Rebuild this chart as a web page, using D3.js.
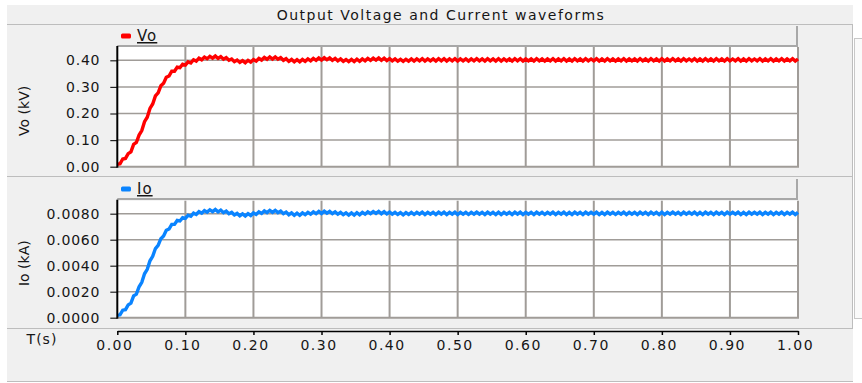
<!DOCTYPE html>
<html>
<head>
<meta charset="utf-8">
<script src="https://cdn.jsdelivr.net/npm/d3@7"></script>
<style>
  html, body { margin: 0; padding: 0; background: #ffffff; }
  svg text { font-family: "DejaVu Sans", Verdana, sans-serif; fill: #161616; }
</style>
</head>
<body>
<svg id="canvas" width="862" height="383"></svg>
<script>
'use strict';

/* sampling of the waveforms (s) */
const sampleStep = 0.004;

/* output voltage Vo (kV), one value every sampleStep from 0 to 1 s */
const voValues = [
  0.009,0.011,0.029,0.031,0.049,0.056,0.084,0.091,0.119,0.136,
  0.169,0.186,0.219,0.236,0.266,0.278,0.304,0.314,0.336,0.341,
  0.359,0.359,0.374,0.372,0.385,0.382,0.394,0.390,0.402,0.397,
  0.408,0.402,0.412,0.406,0.415,0.408,0.416,0.407,0.414,0.404,
  0.410,0.400,0.405,0.395,0.401,0.392,0.399,0.391,0.400,0.393,
  0.403,0.397,0.407,0.401,0.411,0.404,0.413,0.405,0.413,0.404,
  0.410,0.400,0.406,0.396,0.403,0.394,0.402,0.394,0.403,0.396,
  0.405,0.398,0.407,0.400,0.409,0.401,0.410,0.402,0.409,0.400,
  0.407,0.398,0.405,0.396,0.403,0.395,0.403,0.395,0.404,0.396,
  0.405,0.398,0.407,0.400,0.408,0.401,0.409,0.400,0.408,0.399,
  0.406,0.398,0.405,0.397,0.404,0.396,0.404,0.397,0.405,0.397,
  0.405,0.398,0.406,0.397,0.405,0.398,0.405,0.397,0.406,0.398,
  0.406,0.397,0.405,0.398,0.406,0.397,0.405,0.398,0.405,0.397,
  0.405,0.398,0.406,0.398,0.405,0.397,0.406,0.398,0.405,0.397,
  0.406,0.397,0.405,0.398,0.405,0.397,0.406,0.398,0.406,0.397,
  0.405,0.398,0.405,0.397,0.406,0.398,0.405,0.397,0.405,0.398,
  0.406,0.397,0.405,0.398,0.406,0.397,0.405,0.397,0.406,0.398,
  0.405,0.397,0.406,0.398,0.405,0.398,0.406,0.397,0.405,0.397,
  0.406,0.398,0.405,0.397,0.405,0.398,0.406,0.397,0.405,0.398,
  0.405,0.397,0.406,0.398,0.405,0.397,0.406,0.398,0.405,0.397,
  0.406,0.397,0.405,0.398,0.406,0.398,0.405,0.397,0.406,0.398,
  0.405,0.398,0.406,0.397,0.405,0.397,0.406,0.398,0.405,0.397,
  0.406,0.398,0.405,0.397,0.406,0.398,0.405,0.398,0.406,0.397,
  0.405,0.397,0.406,0.398,0.405,0.398,0.406,0.397,0.405,0.398,
  0.406,0.397,0.405,0.398,0.406,0.397,0.405,0.398,0.406,0.397,
  0.405
];

/* output current Io (kA), same sampling */
const ioValues = [
  0.00018,0.00022,0.00058,0.00062,0.00098,0.00112,0.00168,0.00182,0.00238,0.00272,
  0.00338,0.00372,0.00438,0.00472,0.00532,0.00556,0.00608,0.00628,0.00672,0.00682,
  0.00718,0.00718,0.00748,0.00744,0.00770,0.00764,0.00788,0.00780,0.00804,0.00794,
  0.00816,0.00804,0.00824,0.00812,0.00830,0.00816,0.00832,0.00814,0.00828,0.00808,
  0.00820,0.00800,0.00810,0.00790,0.00802,0.00784,0.00798,0.00782,0.00800,0.00786,
  0.00806,0.00794,0.00814,0.00802,0.00822,0.00808,0.00826,0.00810,0.00826,0.00808,
  0.00820,0.00800,0.00812,0.00792,0.00806,0.00788,0.00804,0.00788,0.00806,0.00792,
  0.00810,0.00796,0.00814,0.00800,0.00818,0.00802,0.00820,0.00804,0.00818,0.00800,
  0.00814,0.00796,0.00810,0.00792,0.00806,0.00790,0.00806,0.00790,0.00808,0.00792,
  0.00810,0.00796,0.00814,0.00800,0.00816,0.00802,0.00818,0.00800,0.00816,0.00798,
  0.00812,0.00796,0.00810,0.00794,0.00808,0.00792,0.00808,0.00794,0.00810,0.00794,
  0.00810,0.00796,0.00812,0.00794,0.00810,0.00796,0.00810,0.00794,0.00812,0.00796,
  0.00812,0.00794,0.00810,0.00796,0.00812,0.00794,0.00810,0.00796,0.00810,0.00794,
  0.00810,0.00796,0.00812,0.00796,0.00810,0.00794,0.00812,0.00796,0.00810,0.00794,
  0.00812,0.00794,0.00810,0.00796,0.00810,0.00794,0.00812,0.00796,0.00812,0.00794,
  0.00810,0.00796,0.00810,0.00794,0.00812,0.00796,0.00810,0.00794,0.00810,0.00796,
  0.00812,0.00794,0.00810,0.00796,0.00812,0.00794,0.00810,0.00794,0.00812,0.00796,
  0.00810,0.00794,0.00812,0.00796,0.00810,0.00796,0.00812,0.00794,0.00810,0.00794,
  0.00812,0.00796,0.00810,0.00794,0.00810,0.00796,0.00812,0.00794,0.00810,0.00796,
  0.00810,0.00794,0.00812,0.00796,0.00810,0.00794,0.00812,0.00796,0.00810,0.00794,
  0.00812,0.00794,0.00810,0.00796,0.00812,0.00796,0.00810,0.00794,0.00812,0.00796,
  0.00810,0.00796,0.00812,0.00794,0.00810,0.00794,0.00812,0.00796,0.00810,0.00794,
  0.00812,0.00796,0.00810,0.00794,0.00812,0.00796,0.00810,0.00796,0.00812,0.00794,
  0.00810,0.00794,0.00812,0.00796,0.00810,0.00796,0.00812,0.00794,0.00810,0.00796,
  0.00812,0.00794,0.00810,0.00796,0.00812,0.00794,0.00810,0.00796,0.00812,0.00794,
  0.00810
];

/* tick labels */
const timeTicks = [0.0, 0.1, 0.2, 0.3, 0.4, 0.5, 0.6, 0.7, 0.8, 0.9, 1.0];
const voTicks = [0.0, 0.1, 0.2, 0.3, 0.4];
const ioTicks = [0.0, 0.002, 0.004, 0.006, 0.008];

const title = 'Output Voltage and Current waveforms';

/* panel geometry */
const left = 117.3, right = 798;
const panels = [
  { name: 'Vo', label: 'Vo (kV)', values: voValues, ticks: voTicks, fmt: '.2f',
    domain: [0, 0.45], top: 47, bottom: 166.7, legendTop: 26, color: '#ff0000' },
  { name: 'Io', label: 'Io (kA)', values: ioValues, ticks: ioTicks, fmt: '.4f',
    domain: [0, 0.009], top: 200.7, bottom: 317.7, legendTop: 179, color: '#0a84ff' }
];

let svg = d3.select('#canvas');

/* window background */
svg.append('rect')
  .attr('x', 7).attr('y', 5).attr('width', 846).attr('height', 376)
  .style('fill', '#f0f0f0');

svg.append('text')
  .attr('x', 441).attr('y', 20)
  .attr('text-anchor', 'middle')
  .style('font-size', '14px')
  .style('letter-spacing', '1.5px')
  .text(title);

let frame = [
  [7, 24.5, 853, 24.5], [7, 176.5, 853, 176.5],
  [7, 328.5, 853, 328.5], [7, 381.5, 853, 381.5],
  [852.5, 24.5, 852.5, 328.5]
];
svg.append('g').selectAll('line')
  .data(frame)
  .enter().append('line')
  .attr('x1', d => d[0]).attr('y1', d => d[1])
  .attr('x2', d => d[2]).attr('y2', d => d[3])
  .style('stroke', '#bdbdbd')
  .style('stroke-width', 1);

/* right side scroll strip */
svg.append('rect')
  .attr('x', 854.5).attr('y', 38.5).attr('width', 8).attr('height', 280)
  .style('fill', '#fafafa').style('stroke', '#c8c8c8');

let x = d3.scaleLinear().domain([0, 1]).range([left, right]);

panels.forEach(function(p){
  let y = d3.scaleLinear().domain(p.domain).range([p.bottom, p.top]);
  let g = svg.append('g').attr('id', 'panel_' + p.name);

  /* legend bar */
  g.append('rect')
    .attr('x', left).attr('y', p.legendTop)
    .attr('width', right - left - 2).attr('height', 20)
    .style('fill', '#f0f0f0');
  g.append('path')
    .attr('d', `M${right - 1},${p.legendTop} V${p.legendTop + 20} H${left}`)
    .style('fill', 'none').style('stroke', '#a8a8a8').style('stroke-width', 2);
  g.append('rect')
    .attr('x', 121).attr('y', p.legendTop + 7.5)
    .attr('width', 10).attr('height', 5).attr('rx', 1.5)
    .style('fill', p.color);
  g.append('text')
    .attr('x', 137).attr('y', p.legendTop + 15)
    .style('font-size', '15px')
    .style('letter-spacing', '1px')
    .style('text-decoration', 'underline')
    .text(p.name);

  /* plot area */
  g.append('rect')
    .attr('x', left).attr('y', p.top)
    .attr('width', right - left).attr('height', p.bottom - p.top)
    .style('fill', '#ffffff');

  /* grid */
  g.append('g').selectAll('line')
    .data(timeTicks.slice(1))
    .enter().append('line')
    .attr('x1', d => x(d)).attr('x2', d => x(d))
    .attr('y1', p.top).attr('y2', p.bottom)
    .style('stroke', '#a09c98').style('stroke-width', 2);
  g.append('g').selectAll('line')
    .data(p.ticks.slice(1))
    .enter().append('line')
    .attr('x1', left).attr('x2', right)
    .attr('y1', d => y(d)).attr('y2', d => y(d))
    .style('stroke', '#a09c98').style('stroke-width', 1.5);
  g.append('line')
    .attr('x1', left).attr('x2', right + 1)
    .attr('y1', p.bottom).attr('y2', p.bottom)
    .style('stroke', '#a09c98').style('stroke-width', 2);

  /* waveform */
  let line = d3.line()
    .x((d, i) => x(i * sampleStep))
    .y(d => y(d));
  g.append('path')
    .datum(p.values)
    .attr('d', line)
    .style('fill', 'none')
    .style('stroke', p.color)
    .style('stroke-width', 3.4);

  /* y axis */
  let axis = g.append('g')
    .attr('transform', `translate(${left},0)`)
    .call(d3.axisLeft(y).tickValues(p.ticks)
      .tickFormat(d3.format(p.fmt)).tickSize(7).tickPadding(10));
  axis.select('.domain').remove();
  axis.selectAll('.tick line').style('stroke', '#222').style('stroke-width', 1.2);
  axis.selectAll('.tick text')
    .style('font-family', '"DejaVu Sans", Verdana, sans-serif')
    .style('font-size', '14px')
    .style('letter-spacing', '0.8px')
    .style('fill', '#161616');
  g.append('line')
    .attr('x1', left).attr('x2', left)
    .attr('y1', p.top - 1).attr('y2', p.bottom + 1)
    .style('stroke', '#000').style('stroke-width', 2);

  g.append('text')
    .attr('transform', `translate(25,${(p.top + p.bottom) / 2 + 4}) rotate(-90)`)
    .attr('text-anchor', 'middle')
    .attr('dominant-baseline', 'middle')
    .style('font-size', '14px')
    .text(p.label);
});

/* time axis */
let xAxis = svg.append('g')
  .attr('transform', 'translate(0,331)')
  .call(d3.axisBottom(x).tickValues(timeTicks)
    .tickFormat(d3.format('.2f')).tickSize(4).tickSizeOuter(0).tickPadding(5));
xAxis.select('.domain').style('stroke', '#000').style('stroke-width', 1.5);
xAxis.selectAll('.tick line').style('stroke', '#000').style('stroke-width', 1.5);
xAxis.selectAll('.tick text')
  .attr('dx', -3)
  .style('font-family', '"DejaVu Sans", Verdana, sans-serif')
  .style('font-size', '14px')
  .style('letter-spacing', '1.5px')
  .style('fill', '#161616');

svg.append('text')
  .attr('x', 42).attr('y', 344)
  .attr('text-anchor', 'middle')
  .style('font-size', '14px')
  .style('letter-spacing', '1px')
  .text('T(s)');
</script>
</body>
</html>
